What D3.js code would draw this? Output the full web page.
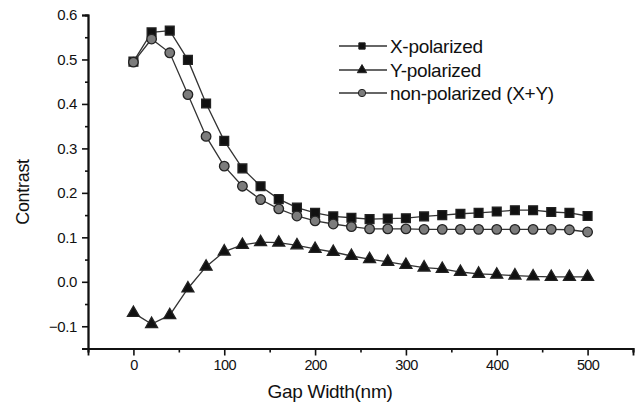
<!DOCTYPE html>
<html>
<head>
<meta charset="utf-8">
<script src="https://cdn.jsdelivr.net/npm/d3@7"></script>
<style>
  html, body { margin: 0; padding: 0; background: #fff; }
  svg { display: block; }
  text { font-family: "Liberation Sans", Arial, Helvetica, sans-serif; fill: #111; }
</style>
</head>
<body>
<svg id="chart" width="637" height="404"></svg>
<script>
// ---- data ----
const gapWidth = [0, 20, 40, 60, 80, 100, 120, 140, 160, 180, 200, 220, 240, 260, 280, 300, 320, 340, 360, 380, 400, 420, 440, 460, 480, 500];
const xPolarized = [0.495, 0.561, 0.565, 0.499, 0.401, 0.317, 0.255, 0.215, 0.186, 0.167, 0.155, 0.147, 0.144, 0.141, 0.142, 0.143, 0.147, 0.150, 0.153, 0.155, 0.158, 0.161, 0.161, 0.157, 0.155, 0.148];
const yPolarized = [-0.070, -0.095, -0.075, -0.015, 0.034, 0.068, 0.083, 0.089, 0.088, 0.082, 0.074, 0.067, 0.058, 0.051, 0.045, 0.038, 0.032, 0.029, 0.022, 0.018, 0.016, 0.014, 0.012, 0.011, 0.011, 0.011];
const nonPolarized = [0.494, 0.546, 0.515, 0.421, 0.327, 0.260, 0.215, 0.185, 0.164, 0.148, 0.137, 0.130, 0.124, 0.119, 0.119, 0.119, 0.118, 0.118, 0.118, 0.118, 0.118, 0.118, 0.118, 0.118, 0.117, 0.112];
const seriesNames = ["X-polarized", "Y-polarized", "non-polarized (X+Y)"];
const xTicks = [0, 100, 200, 300, 400, 500];
const yTicks = [-0.1, 0.0, 0.1, 0.2, 0.3, 0.4, 0.5, 0.6];
const xMinorTicks = [-50, 50, 150, 250, 350, 450, 550];
const yMinorTicks = [-0.15, -0.05, 0.05, 0.15, 0.25, 0.35, 0.45, 0.55];

// ---- layout ----
const svg = d3.select("#chart");
const x = d3.scaleLinear().domain([-50, 550]).range([88, 633]);
const y = d3.scaleLinear().domain([-0.15, 0.6]).range([348.5, 15]);

const axisColor = "#111";

// x axis
const gx = svg.append("g").attr("transform", `translate(0,${y(-0.15)})`);
gx.call(d3.axisBottom(x).tickValues(xMinorTicks).tickSize(4).tickFormat(""));
gx.call(g => g.append("g").call(d3.axisBottom(x).tickValues(xTicks).tickSize(7).tickPadding(4).tickFormat(d3.format("d"))));
gx.selectAll(".domain").attr("stroke", axisColor).attr("stroke-width", 1.8);
gx.selectAll(".tick line").attr("stroke", axisColor).attr("stroke-width", 1.6);
gx.selectAll("text").style("font-size", "14.5px").attr("fill", "#111").style("letter-spacing", "-0.6px");

// y axis
const gy = svg.append("g").attr("transform", `translate(${x(-50)},0)`);
gy.call(d3.axisLeft(y).tickValues(yMinorTicks).tickSize(3).tickFormat(""));
gy.call(g => g.append("g").call(d3.axisLeft(y).tickValues(yTicks).tickSize(6).tickPadding(5).tickFormat(d3.format(".1f"))));
gy.selectAll(".domain").attr("stroke", axisColor).attr("stroke-width", 1.8);
gy.selectAll(".tick line").attr("stroke", axisColor).attr("stroke-width", 1.6);
gy.selectAll("text").style("font-size", "15px").attr("fill", "#111").style("letter-spacing", "-0.4px");

// axis titles
svg.append("text")
  .attr("x", 330).attr("y", 398)
  .attr("text-anchor", "middle")
  .style("font-size", "19px").style("letter-spacing", "-0.3px")
  .text("Gap Width(nm)");
svg.append("text")
  .attr("transform", `translate(29,192) rotate(-90)`)
  .attr("text-anchor", "middle")
  .style("font-size", "18px").style("letter-spacing", "-0.3px")
  .text("Contrast");

// ---- series ----
const line = d3.line().x(d => x(d[0])).y(d => y(d[1]));
const lineColor = "#333";

function drawSeries(values, shape, size, fill, stroke) {
  const pts = gapWidth.map((g, i) => [g, values[i]]);
  svg.append("path").datum(pts)
    .attr("d", line).attr("fill", "none")
    .attr("stroke", lineColor).attr("stroke-width", 1.3);
  svg.append("g").selectAll("path").data(pts).join("path")
    .attr("transform", d => `translate(${x(d[0])},${y(d[1])})`)
    .attr("d", d3.symbol().type(shape).size(size))
    .attr("fill", fill).attr("stroke", stroke).attr("stroke-width", 1.3);
}

drawSeries(yPolarized, d3.symbolTriangle, 62, "#111", "#222");
drawSeries(xPolarized, d3.symbolSquare, 78, "#111", "#222");
drawSeries(nonPolarized, d3.symbolCircle, 72, "#7c7c7c", "#222");

// ---- legend ----
const legendShapes = [[d3.symbolSquare, 40, "#111"], [d3.symbolTriangle, 38, "#111"], [d3.symbolCircle, 42, "#7c7c7c"]];
const legendY = [46, 70, 93];
const lg = svg.append("g");
seriesNames.forEach((name, i) => {
  const row = lg.append("g").attr("transform", `translate(0,${legendY[i]})`);
  row.append("line").attr("x1", 339).attr("x2", 387).attr("y1", 0).attr("y2", 0)
    .attr("stroke", lineColor).attr("stroke-width", 1.3);
  row.append("path").attr("transform", "translate(362,0)")
    .attr("d", d3.symbol().type(legendShapes[i][0]).size(legendShapes[i][1]))
    .attr("fill", legendShapes[i][2]).attr("stroke", "#222").attr("stroke-width", 1);
  row.append("text").attr("x", 390).attr("y", 0).attr("dy", "0.35em")
    .style("font-size", "19px").style("letter-spacing", "-0.3px")
    .text(name);
});
</script>
</body>
</html>
